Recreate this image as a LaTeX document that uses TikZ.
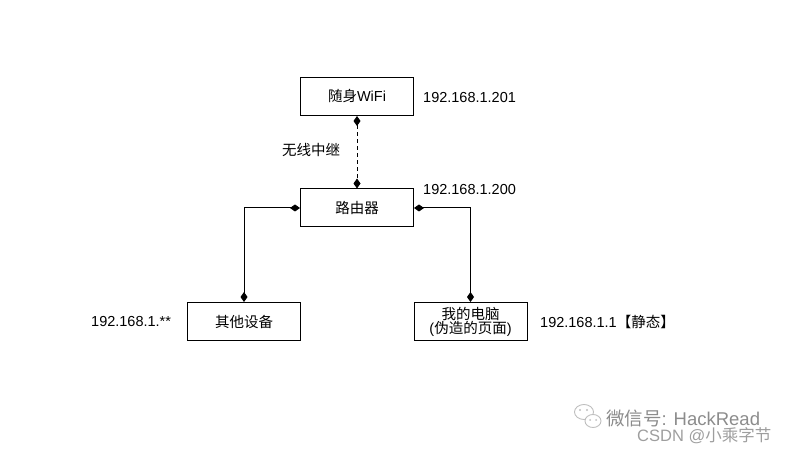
\documentclass[tikz,border=0pt]{standalone}
\usepackage{fontspec}
\setmainfont{Liberation Sans}
\newfontfamily\cjk{Noto Sans CJK SC}
\usetikzlibrary{arrows.meta}
\begin{document}
\begin{tikzpicture}[x=1pt,y=-1pt,
  font=\fontsize{14.5}{17}\selectfont,
  box/.style={draw,line width=1pt,minimum width=113pt,minimum height=38pt,inner sep=0pt,align=center},
  lbl/.style={anchor=west,inner sep=0pt},
  conn/.style={line width=1pt,{Diamond[length=10pt,width=7pt]}-{Diamond[length=10pt,width=7pt]}},
  wm/.style={anchor=west,inner sep=0pt,text=black!45}]
\useasboundingbox (0,0) rectangle (788,454);
\node[box] (wifi) at (357,96.5) {{\cjk 随身}WiFi};
\node[box] (router) at (357,208) {{\cjk 路由器}};
\node[box] (other) at (244,321.5) {{\cjk 其他设备}};
\node[box,text width=110pt] (pc) at (470.5,321.5) {{\cjk 我的电脑}\\[-3pt]({\cjk 伪造的页面})};
\node[lbl] (ipwifi) at (423,98) {192.168.1.201};
\node[lbl] (iprouter) at (423,190) {192.168.1.200};
\node[lbl] (relay) at (282,150) {{\cjk 无线中继}};
\node[lbl] (ipother) at (91,322) {192.168.1.**};
\node[lbl] (ippc) at (540,322) {192.168.1.1{\cjk 【静态】}};
\draw[conn,dash pattern=on 4pt off 3pt] (wifi.south) -- (router.north);
\draw[conn] (router.west) -| (other.north);
\draw[conn] (router.east) -| (pc.north);
% watermark
\draw[black!25,line width=0.9pt] (584,412) ellipse (9.5 and 7.5);
\draw[black!25,line width=0.9pt,fill=white] (593,421) ellipse (8 and 6.5);
\fill[black!25] (580,410) circle (1.1) (587,410) circle (1.1) (590,420) circle (1) (596,420) circle (1);
\node[wm,font=\fontsize{18.5}{20}\selectfont] (wx) at (606,418) {{\cjk 微信号}: HackRead};
\node[wm,font=\fontsize{16.5}{18}\selectfont,text=black!38] (csdn) at (637,436) {CSDN @{\cjk 小乘字节}};
\end{tikzpicture}
\end{document}
